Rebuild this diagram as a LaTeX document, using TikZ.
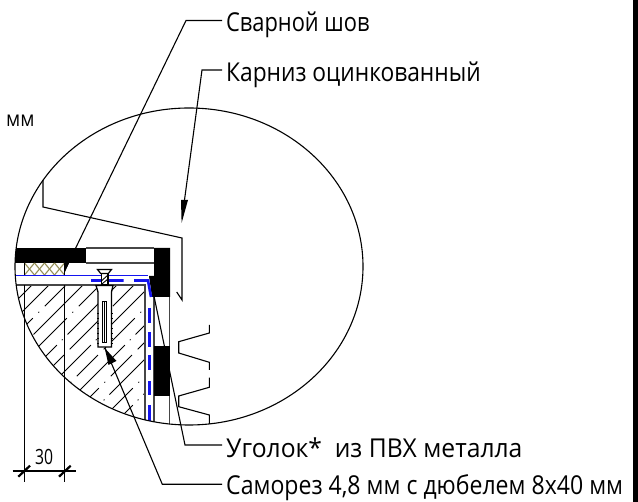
\documentclass[tikz,border=0pt]{standalone}
\usepackage{fontspec}
\setmainfont{Open Sans}[FakeStretch=0.9]
\usetikzlibrary{calc}
\definecolor{cblue}{RGB}{20,20,240}
\definecolor{cgray}{RGB}{70,70,70}
\definecolor{colive}{RGB}{150,145,90}
\tikzset{
 thin line/.style={line width=1.1pt,black},
 wall line/.style={line width=1.5pt,cgray},
 label text/.style={anchor=base west,inner sep=0pt,font=\fontsize{26}{26}\selectfont},
 hatch a/.style={line width=0.9pt,black,dash pattern=on 70pt off 7pt on 1pt off 7pt},
 hatch b/.style={line width=0.9pt,black,dash pattern=on 30pt off 8pt on 1pt off 8pt on 44pt off 8pt},
 blue dash/.style={line width=2.6pt,cblue},
}
\begin{document}
\begin{tikzpicture}[x=1pt,y=-1pt]
\useasboundingbox (0,0) rectangle (638,502);
\fill (633,0) rectangle (638,502);
% labels
\node[label text] (t1) at (226,31.7) {\addfontfeature{FakeStretch=0.84}Сварной шов};
\node[label text] (t2) at (226,81.5) {\addfontfeature{FakeStretch=0.875}Карниз оцинкованный};
\node[label text] (t3) at (226,458) {\addfontfeature{FakeStretch=0.948}Уголок*\ \ из ПВХ металла};
\node[label text] (t4) at (226,495) {\addfontfeature{FakeStretch=0.887}Саморез 4,8 мм с дюбелем 8x40 мм};
\node[label text,font=\fontsize{21.5}{21.5}\selectfont] (t5) at (6,127) {мм};
\node[label text,font=\fontsize{21}{21}\selectfont] (t6) at (35,465) {\addfontfeature{FakeStretch=0.75}30};
% free ends
\coordinate (a1) at (222,20.5); \coordinate (a1k) at (186,20.5); \coordinate (a1e) at (66,268);
\coordinate (a2) at (222,70); \coordinate (a2k) at (202,70); \coordinate (a2e) at (184.5,200);
\coordinate (a3) at (222,445); \coordinate (a3k) at (185,445); \coordinate (a3e) at (150,277);
\coordinate (a4) at (222,484.3); \coordinate (a4k) at (162.3,484.3); \coordinate (a4e) at (105,348);
% clipped detail
\begin{scope}
\clip (189,266.5) ellipse [x radius=174,y radius=158.5];
% hatching of wall
\begin{scope}
\clip (0,285) rectangle (145,430);
\foreach \c/\st in {300/hatch a,317/hatch b,334/hatch a,351/hatch b,368/hatch a,385/hatch b,402/hatch a,419/hatch b,436/hatch a,453/hatch b,470/hatch a,487/hatch b,504/hatch a,521/hatch b,538/hatch a}{
 \draw[\st] (\c-285,285) -- (\c-430,430);
}
\end{scope}
% top band
\fill (0,248) rectangle (86,263);
\draw[wall line] (86,248) -- (154,248);
\draw[wall line] (86,263) -- (154,263);
% insulation
\begin{scope}
\clip (24.5,263) rectangle (64.5,275);
\foreach \i in {0,1,2,3}{
 \draw[colive,line width=1.1pt] (24.5+\i*10,263) -- (34.5+\i*10,275);
 \draw[colive,line width=1.1pt] (34.5+\i*10,263) -- (24.5+\i*10,275);
}
\end{scope}
\draw[thin line] (24.5,263) -- (24.5,275);
\draw[thin line] (64.5,263) -- (64.5,275);
% wall top
\draw[wall line] (0,285) -- (145,285) -- (145,430);
\draw[line width=1.3pt,cblue] (0,275.5) -- (148,275.5);
% cover
\draw[wall line] (154,297) -- (154,430);
\draw[wall line] (169.5,297) -- (169.5,430);
\fill (154,346) rectangle (170,396);
\fill (154,248) -- (170,248) -- (170,297) -- (152,297) -- (149,276) -- (154,276) -- cycle;
% blue angle
\draw[blue dash] (91,280.5) -- (101,280.5) (106.5,280.5) -- (123.5,280.5) (134,280.5) -- (148,280.5) -- (151,297);
\foreach \a/\b in {308/323,332/347,355/370,381/395,405/421}{
 \draw[blue dash] (149.5,\a) -- (149.5,\b);
}
% dowel
\filldraw[fill=white,draw=black,line width=1.3pt] (96,285.5) -- (113,285.5) -- (111.5,292) -- (111.5,347) -- (98,347) -- (98,292) -- cycle;
\foreach \y in {314,319,324,329,334,339,344}{
 \draw[line width=1pt,black] (97,\y) -- (99,\y) (110.5,\y) -- (112.5,\y);
}
\filldraw[fill=white,draw=black,line width=1pt] (102.7,301.7) rectangle (106,343);
\draw[line width=0.9pt] (104.4,301.7) -- (104.4,343);
% screw
\filldraw[fill=white,draw=black,line width=1.2pt] (101.3,273.5) rectangle (108,284.5);
\draw[line width=.9pt] (101.3,281) -- (108,275) (101.3,284.5) -- (108,279);
\filldraw[fill=white,draw=black,line width=1.2pt] (97.5,269.5) -- (111.5,269.5) -- (108.3,273.5) -- (100.7,273.5) -- cycle;
\end{scope}
% verticals and dimension
\draw[thin line] (24.5,285) -- (24.5,482);
\draw[thin line] (64.5,285) -- (64.5,482);
\draw[thin line] (12.7,471) -- (76,471);
\draw[line width=2.2pt] (18.3,476.7) -- (30,465.7);
\draw[line width=2.2pt] (59,476.7) -- (70.7,465.7);
% big circle
\draw[thin line] (189,266.5) ellipse [x radius=174,y radius=158.5];
% break line
\draw[thin line] (43,180) -- (43,207) -- (182,238) -- (182,300) -- (176.7,292);
% zigzag
\draw[thin line] (209.3,325) -- (209.3,333) -- (178.7,341.7) -- (178.7,353) -- (209.3,362.3) -- (209.3,370);
\draw[thin line] (209.3,377.7) -- (209.3,387.3) -- (178.7,396) -- (178.7,406.7) -- (209.3,415) -- (209.3,424);
% leaders
\draw[thin line] (a1) -- (a1k) -- (a1e);
\fill (65,272) -- (64.5,263) -- (69,263) -- cycle;
\draw[thin line] (a2) -- (a2k) -- (a2e);
\fill (181,200) -- (188,200) -- (181.6,223) -- cycle;
\draw[thin line] (a3) -- (a3k) -- (a3e);
\draw[thin line] (a4) -- (a4k) -- (a4e);
\fill (104.7,348) -- (116.5,361) -- (108.5,365) -- cycle;
\end{tikzpicture}
\end{document}
